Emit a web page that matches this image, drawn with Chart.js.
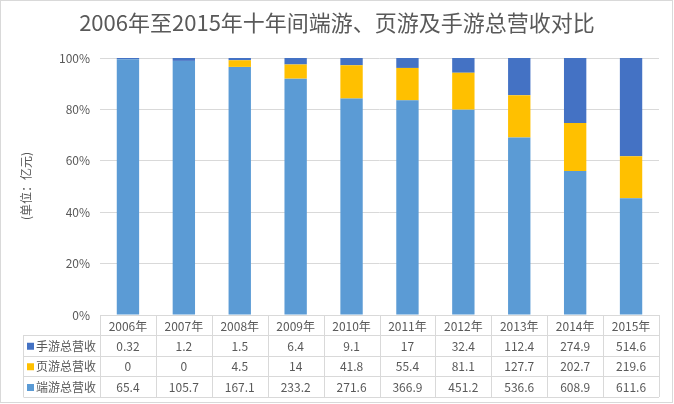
<!DOCTYPE html>
<html>
<head>
<meta charset="utf-8">
<script src="https://cdn.jsdelivr.net/npm/chart.js@4"></script>
<style>
  html, body { margin: 0; padding: 0; background: #fff; }
  #wrap { width: 674px; height: 404px; }
</style>
</head>
<body>
<div id="wrap"><canvas id="c" width="674" height="404"></canvas></div>
<script>
const years = ['2006年', '2007年', '2008年', '2009年', '2010年', '2011年', '2012年', '2013年', '2014年', '2015年'];
const mobile = [0.32, 1.2, 1.5, 6.4, 9.1, 17, 32.4, 112.4, 274.9, 514.6];
const web = [0, 0, 4.5, 14, 41.8, 55.4, 81.1, 127.7, 202.7, 219.6];
const client = [65.4, 105.7, 167.1, 233.2, 271.6, 366.9, 451.2, 536.6, 608.9, 611.6];
const yTicks = [0, 20, 40, 60, 80, 100];

const FONT = '"Noto Sans CJK SC", "Noto Sans", sans-serif';
const TEXT = '#595959';
const LINE = '#d9d9d9';

// share of each year's total, in percent
function share(arr) {
  return arr.map((v, i) => v / (mobile[i] + web[i] + client[i]) * 100);
}

const series = [
  { label: '端游总营收', raw: client, color: '#5b9bd5' },
  { label: '页游总营收', raw: web, color: '#ffc000' },
  { label: '手游总营收', raw: mobile, color: '#4472c4' }
];

// table rows are listed top to bottom: 手游, 页游, 端游
const tableRows = [series[2], series[1], series[0]];

const extras = {
  id: 'extras',
  afterDraw(chart) {
    const ctx = chart.ctx;
    const area = chart.chartArea;
    const x = chart.scales.x;
    ctx.save();

    // title
    ctx.fillStyle = TEXT;
    ctx.font = '22px ' + FONT;
    ctx.textAlign = 'center';
    ctx.textBaseline = 'middle';
    ctx.fillText('2006年至2015年十年间端游、页游及手游总营收对比', 337, 23);

    // y axis title
    ctx.save();
    ctx.translate(26, 186);
    ctx.rotate(-Math.PI / 2);
    ctx.font = '12px ' + FONT;
    ctx.fillText('(单位：亿元)', 0, 0);
    ctx.restore();

    // data table
    const colW = (area.right - area.left) / years.length;
    const rowTops = [area.bottom, 335, 355.5, 376, 397];
    const legLeft = 23.5;
    ctx.strokeStyle = LINE;
    ctx.lineWidth = 1;
    ctx.beginPath();
    ctx.moveTo(area.left, Math.round(rowTops[0]) + 0.5);
    ctx.lineTo(area.right, Math.round(rowTops[0]) + 0.5);
    for (let r = 1; r < rowTops.length; r++) {
      ctx.moveTo(legLeft, Math.round(rowTops[r]) + 0.5);
      ctx.lineTo(area.right, Math.round(rowTops[r]) + 0.5);
    }
    ctx.moveTo(legLeft, rowTops[1]);
    ctx.lineTo(legLeft, rowTops[4]);
    for (let c = 0; c <= years.length; c++) {
      const cx = Math.round(area.left + c * colW) + 0.5;
      ctx.moveTo(cx, rowTops[0]);
      ctx.lineTo(cx, rowTops[4]);
    }
    ctx.stroke();

    ctx.font = '12px ' + FONT;
    ctx.fillStyle = TEXT;
    ctx.textAlign = 'center';
    years.forEach((y, i) => {
      ctx.fillText(y, x.getPixelForValue(i), (rowTops[0] + rowTops[1]) / 2 + 1);
    });
    tableRows.forEach((s, r) => {
      const cy = (rowTops[r + 1] + rowTops[r + 2]) / 2 + 1;
      ctx.fillStyle = s.color;
      ctx.fillRect(27, cy - 3.5, 7, 7);
      ctx.fillStyle = TEXT;
      ctx.textAlign = 'left';
      ctx.fillText(s.label, 36, cy);
      ctx.textAlign = 'center';
      s.raw.forEach((v, i) => {
        ctx.fillText(String(v), x.getPixelForValue(i), cy);
      });
    });

    // outer frame
    ctx.strokeStyle = LINE;
    ctx.strokeRect(0.5, 0.5, 672, 402);
    ctx.restore();
  }
};

new Chart(document.getElementById('c'), {
  type: 'bar',
  data: {
    labels: years,
    datasets: series.map(s => ({
      label: s.label,
      data: share(s.raw),
      backgroundColor: s.color,
      borderWidth: 0,
      categoryPercentage: 1,
      barPercentage: 0.4
    }))
  },
  options: {
    responsive: false,
    devicePixelRatio: 1,
    animation: false,
    layout: { padding: { top: 58, right: 15, bottom: 89, left: 0 } },
    plugins: {
      legend: { display: false },
      title: { display: false },
      tooltip: { enabled: false }
    },
    scales: {
      x: { stacked: true, display: false },
      y: {
        stacked: true,
        min: 0,
        max: 100,
        afterFit(scale) { scale.width = 100; },
        afterBuildTicks(scale) { scale.ticks = yTicks.map(v => ({ value: v })); },
        border: { display: false },
        grid: { color: LINE, drawTicks: false },
        ticks: {
          padding: 10,
          color: TEXT,
          font: { family: FONT, size: 12 },
          callback: v => v + '%'
        }
      }
    }
  },
  plugins: [extras]
});
</script>
</body>
</html>
